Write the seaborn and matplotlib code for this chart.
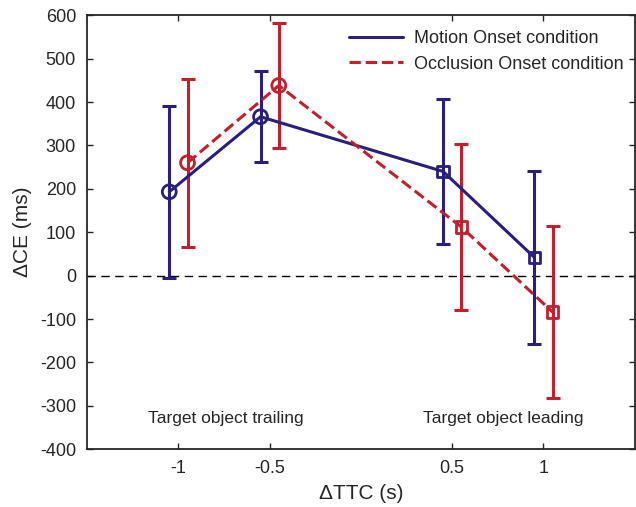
import pandas as pd
import matplotlib
matplotlib.use("Agg")
import matplotlib.pyplot as plt
import seaborn as sns

# values
ttc_ticks = [-1, -0.5, 0.5, 1]
shapes = ["o", "o", "s", "s"]
motion_x = [-1.05, -0.55, 0.45, 0.95]
motion_ce = [193, 366, 240, 42]
motion_err = [198, 105, 168, 199]
occl_x = [-0.95, -0.45, 0.55, 1.05]
occl_ce = [260, 438, 112, -84]
occl_err = [194, 143, 192, 198]

blue = "#2a1f7c"
red = "#c0212c"

sns.set_style("ticks")
plt.rcParams["font.family"] = ["Liberation Sans", "DejaVu Sans"]

fig = plt.figure(figsize=(6.36, 5.07), dpi=100)
ax = fig.add_axes([0.137, 0.114, 0.861, 0.856])

ax.axhline(0, color="black", lw=1, dashes=(6, 4), zorder=1)

series = [
    ("Motion Onset condition", motion_x, motion_ce, motion_err, blue, "-"),
    ("Occlusion Onset condition", occl_x, occl_ce, occl_err, red, "--"),
]
for label, xs, ys, errs, col, ls in series:
    df = pd.DataFrame({"x": xs, "y": ys, "err": errs, "m": shapes})
    sns.lineplot(data=df, x="x", y="y", color=col, lw=2.2, linestyle=ls,
                 label=label, ax=ax, zorder=3)
    ax.errorbar(df["x"], df["y"], yerr=df["err"], fmt="none", ecolor=col,
                elinewidth=2.2, capsize=5, capthick=2.2, zorder=2)
    for m, sub in df.groupby("m"):
        sns.scatterplot(data=sub, x="x", y="y", marker=m,
                        s=100 if m == "o" else 70, facecolor="none",
                        edgecolor=col, linewidth=2, ax=ax, zorder=4)

ax.text(-0.74, -330, "Target object trailing", ha="center", va="center", fontsize=12.5)
ax.text(0.78, -330, "Target object leading", ha="center", va="center", fontsize=12.5)

ax.set_xlim(-1.5, 1.5)
ax.set_ylim(-400, 600)
ax.set_xticks(ttc_ticks)
ax.set_xticklabels(["-1", "-0.5", "0.5", "1"])
ax.set_yticks(range(-400, 601, 100))
ax.set_yticklabels([str(v) for v in range(-400, 601, 100)])
ax.tick_params(direction="in", top=True, right=True, length=4, width=1,
               labelsize=13, pad=8)
for sp in ax.spines.values():
    sp.set_linewidth(1.3)
    sp.set_visible(True)

ax.set_xlabel("\u0394TTC (s)", fontsize=15, labelpad=5)
ax.set_ylabel("\u0394CE (ms)", fontsize=15, labelpad=6)

ax.legend(loc="upper right", bbox_to_anchor=(1.0, 0.99), frameon=False,
          fontsize=13, handlelength=3.0, handletextpad=0.6,
          borderaxespad=0.2, labelspacing=0.45)

fig.savefig("out.png", dpi=100)
